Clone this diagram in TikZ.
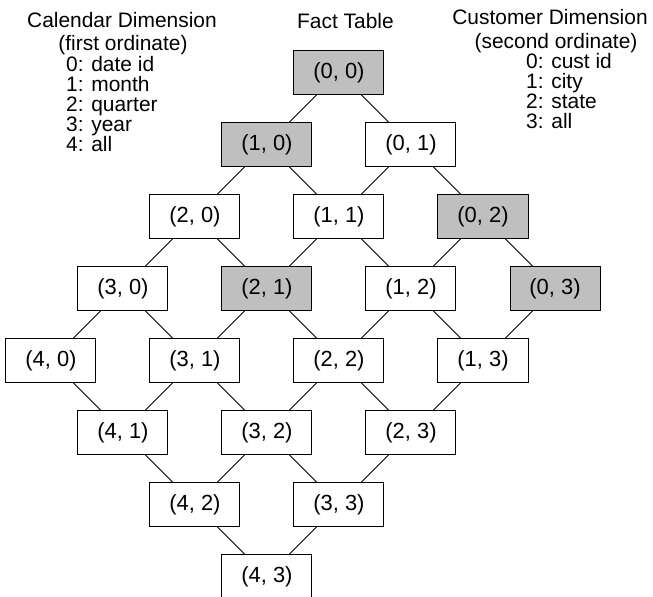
\documentclass[tikz,border=0pt]{standalone}
\usepackage{fontspec}
\setmainfont{Liberation Sans}
\begin{document}
\begin{tikzpicture}[x=1in, y=1in,
    cell/.style={draw, line width=1pt, minimum width=90bp, minimum height=44bp, inner sep=0pt, font=\fontsize{22}{22}\selectfont},
    shaded/.style={cell, fill=black!25},
    label/.style={inner sep=0pt, font=\fontsize{21}{20}\selectfont},
    link/.style={line width=0.8pt}]
    \useasboundingbox (-4.708,-7.271) rectangle (4.361,1.007);

    % Headings and the two dimension keys
    \node[label, anchor=base] (caltitle) at (-3.014,0.632) {Calendar Dimension};
    \node[label, anchor=base] (calsub) at (-3.0,0.299) {(first ordinate)};
    \node[label, anchor=north west, align=left] (calkey) at (-3.792,0.230) {0: date id\\1: month\\2: quarter\\3: year\\4: all};
    \node[label, anchor=base] (fact) at (0.09,0.618) {Fact Table};
    \node[label, anchor=base] (custtitle) at (2.931,0.660) {Customer Dimension};
    \node[label, anchor=base] (custsub) at (3.014,0.340) {(second ordinate)};
    \node[label, anchor=north west, align=left] (custkey) at (2.597,0.271) {0: cust id\\1: city\\2: state\\3: all};

    % Lattice of aggregates, (i, j) sits at (j-i, -(i+j))
    \node[shaded] (c00) at (0,0) {(0, 0)};
    \node[shaded] (c10) at (-1,-1) {(1, 0)};
    \node[cell] (c01) at (1,-1) {(0, 1)};
    \node[cell] (c20) at (-2,-2) {(2, 0)};
    \node[cell] (c11) at (0,-2) {(1, 1)};
    \node[shaded] (c02) at (2,-2) {(0, 2)};
    \node[cell] (c30) at (-3,-3) {(3, 0)};
    \node[shaded] (c21) at (-1,-3) {(2, 1)};
    \node[cell] (c12) at (1,-3) {(1, 2)};
    \node[shaded] (c03) at (3,-3) {(0, 3)};
    \node[cell] (c40) at (-4,-4) {(4, 0)};
    \node[cell] (c31) at (-2,-4) {(3, 1)};
    \node[cell] (c22) at (0,-4) {(2, 2)};
    \node[cell] (c13) at (2,-4) {(1, 3)};
    \node[cell] (c41) at (-3,-5) {(4, 1)};
    \node[cell] (c32) at (-1,-5) {(3, 2)};
    \node[cell] (c23) at (1,-5) {(2, 3)};
    \node[cell] (c42) at (-2,-6) {(4, 2)};
    \node[cell] (c33) at (0,-6) {(3, 3)};
    \node[cell] (c43) at (-1,-7) {(4, 3)};

    % Roll-up links
    \draw[link] (c00) -- (c10) (c00) -- (c01);
    \draw[link] (c10) -- (c20) (c10) -- (c11);
    \draw[link] (c01) -- (c11) (c01) -- (c02);
    \draw[link] (c20) -- (c30) (c20) -- (c21);
    \draw[link] (c11) -- (c21) (c11) -- (c12);
    \draw[link] (c02) -- (c12) (c02) -- (c03);
    \draw[link] (c30) -- (c40) (c30) -- (c31);
    \draw[link] (c21) -- (c31) (c21) -- (c22);
    \draw[link] (c12) -- (c22) (c12) -- (c13);
    \draw[link] (c03) -- (c13);
    \draw[link] (c40) -- (c41);
    \draw[link] (c31) -- (c41) (c31) -- (c32);
    \draw[link] (c22) -- (c32) (c22) -- (c23);
    \draw[link] (c13) -- (c23);
    \draw[link] (c41) -- (c42);
    \draw[link] (c32) -- (c42) (c32) -- (c33);
    \draw[link] (c23) -- (c33);
    \draw[link] (c42) -- (c43);
    \draw[link] (c33) -- (c43);
\end{tikzpicture}
\end{document}
